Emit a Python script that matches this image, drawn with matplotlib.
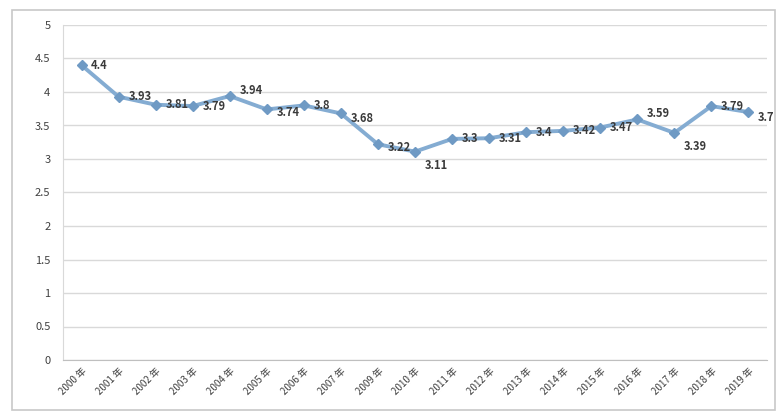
import matplotlib
matplotlib.use("Agg")
import matplotlib.pyplot as plt
from matplotlib.patches import Rectangle

plt.rcParams['font.family'] = ['Noto Sans CJK SC', 'DejaVu Sans']

years = ["2000 年", "2001 年", "2002 年", "2003 年", "2004 年", "2005 年", "2006 年",
         "2007 年", "2009 年", "2010 年", "2011 年", "2012 年", "2013 年", "2014 年",
         "2015 年", "2016 年", "2017 年", "2018 年", "2019 年"]
values = [4.4, 3.93, 3.81, 3.79, 3.94, 3.74, 3.8, 3.68, 3.22, 3.11, 3.3,
          3.31, 3.4, 3.42, 3.47, 3.59, 3.39, 3.79, 3.7]
value_labels = ["4.4", "3.93", "3.81", "3.79", "3.94", "3.74", "3.8", "3.68",
                "3.22", "3.11", "3.3", "3.31", "3.4", "3.42", "3.47", "3.59",
                "3.39", "3.79", "3.7"]
yticks = [0, 0.5, 1, 1.5, 2, 2.5, 3, 3.5, 4, 4.5, 5]
ytick_labels = ["0", "0.5", "1", "1.5", "2", "2.5", "3", "3.5", "4", "4.5", "5"]

# label offsets (points) - style only
dy = [0, 0, 0, 0, 4, -2, 0, -4, -2, -10, 0, 0, 0, 0, 0, 4, -10, 0, -4]

fig = plt.figure(figsize=(7.84, 4.19), dpi=100)
fig.patch.set_facecolor("white")
fig.patches.append(Rectangle((12 / 784, 9 / 419), 763 / 784, 400 / 419,
                             transform=fig.transFigure, fill=False,
                             edgecolor="#c8c8c8", linewidth=1.2))

ax = fig.add_axes([63 / 784, 59 / 419, 704 / 784, 335 / 419])
x = list(range(len(years)))
ax.plot(x, values, color="#84acd2", linewidth=2.8, marker="D", markersize=5.5,
        markerfacecolor="#6f9ac4", markeredgecolor="#6f9ac4", zorder=3)

for xi, v, lab, d in zip(x, values, value_labels, dy):
    ax.annotate(lab, (xi, v), xytext=(7, d), textcoords="offset points",
                ha="left", va="center", fontsize=8, color="#3a3a3a",
                fontweight="bold", zorder=4)

ax.set_xlim(-0.5, len(years) - 0.5)
ax.set_ylim(0, 5)
ax.set_yticks(yticks)
ax.set_yticklabels(ytick_labels, fontsize=8, color="#404040")
ax.set_xticks(x)
ax.set_xticklabels(years, rotation=45, ha="right", rotation_mode="anchor",
                   fontsize=7, color="#404040")
ax.tick_params(axis="both", length=0, pad=9)
ax.tick_params(axis="x", pad=4)
ax.grid(axis="y", color="#d9d9d9", linewidth=1)
ax.set_axisbelow(True)
for s in ["top", "right"]:
    ax.spines[s].set_visible(False)
ax.spines["left"].set_color("#d9d9d9")
ax.spines["bottom"].set_color("#bfbfbf")

fig.savefig("out.png", dpi=100, facecolor="white")
